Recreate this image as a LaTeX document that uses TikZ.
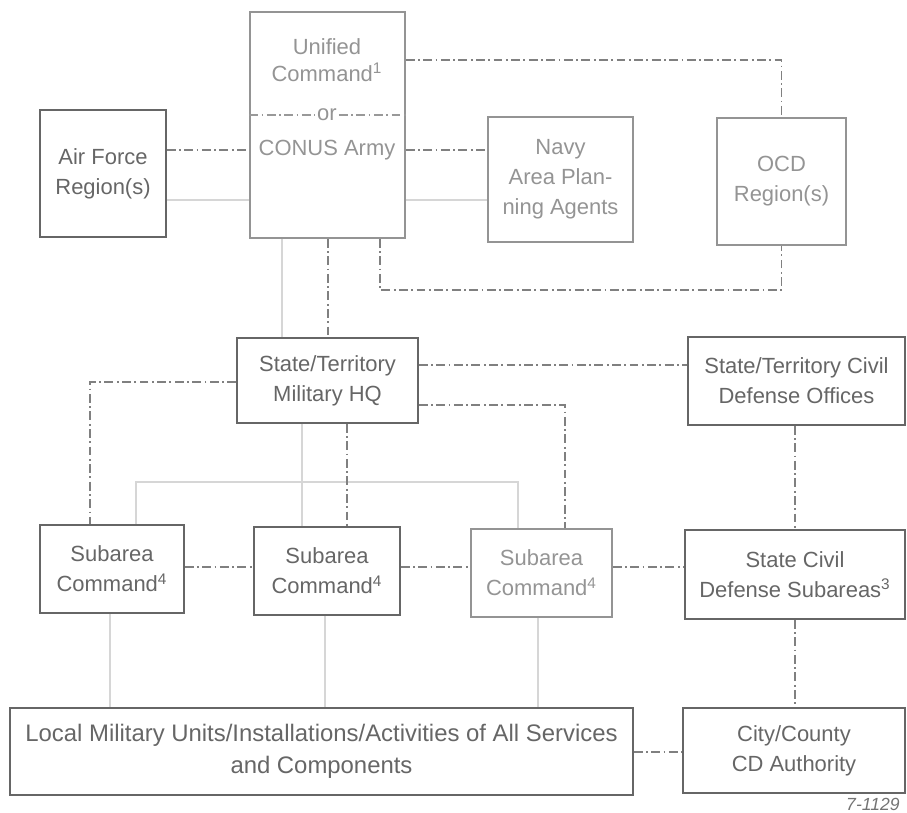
\documentclass[tikz,border=0pt]{standalone}
\usepackage{fontspec}
\setmainfont{Liberation Sans}
\usepackage{tikz}
\usetikzlibrary{arrows.meta}

\tikzset{
    box/.style={draw=black!60, line width=0.9pt, text=black!60, align=center, inner sep=0pt,
        font=\fontsize{12.5}{17}\selectfont},
    faint/.style={draw=black!42, text=black!42},
    label/.style={text=black!42, align=center, inner sep=1pt, font=\fontsize{12.5}{15}\selectfont},
    coord/.style={draw=black!50, line width=0.9pt, dash pattern=on 5pt off 2pt on 1pt off 2pt},
    chain/.style={draw=black!16, line width=1.6pt},
}

\begin{document}
\begin{tikzpicture}[x=0.02cm, y=-0.02cm]
    \useasboundingbox (0, 0) rectangle (907, 813);
    % top row
    \node[box, faint, minimum width=3.1cm, minimum height=4.52cm] (unif) at (327.5, 125) {};
    \node[label] (unifT) at (327, 60) {Unified\\Command\textsuperscript{1}};
    \node[label] (orT) at (327, 115) {or};
    \node[label] (conusT) at (327, 150) {CONUS Army};
    \node[box, minimum width=2.52cm, minimum height=2.54cm] (air) at (103, 173.5) {Air Force\\Region(s)};
    \node[box, faint, minimum width=2.9cm, minimum height=2.5cm] (navy) at (560.5, 179.5) {Navy\\Area Plan-\\ning Agents};
    \node[box, faint, minimum width=2.58cm, minimum height=2.54cm] (ocd) at (781.5, 181.5) {OCD\\Region(s)};
    % state level
    \node[box, minimum width=3.62cm, minimum height=1.7cm] (hq) at (327.5, 380.5) {State/Territory\\Military HQ};
    \node[box, minimum width=4.34cm, minimum height=1.76cm] (cdo) at (796.5, 381) {State/Territory Civil\\Defense Offices};
    % subareas
    \node[box, minimum width=2.88cm, minimum height=1.76cm] (sub1) at (112, 569) {Subarea\\Command\textsuperscript{4}};
    \node[box, minimum width=2.92cm, minimum height=1.76cm] (sub2) at (327, 571) {Subarea\\Command\textsuperscript{4}};
    \node[box, faint, minimum width=2.82cm, minimum height=1.76cm] (sub3) at (541.5, 573) {Subarea\\Command\textsuperscript{4}};
    \node[box, minimum width=4.4cm, minimum height=1.78cm] (cds) at (795, 574.5) {State Civil\\Defense Subareas\textsuperscript{3}};
    % local level
    \node[box, minimum width=12.46cm, minimum height=1.74cm, font=\fontsize{13.6}{18}\selectfont] (local) at (321.5, 751.5) {Local Military Units/Installations/Activities of All Services\\and Components};
    \node[box, minimum width=4.44cm, minimum height=1.7cm] (city) at (794, 750.5) {City/County\\CD Authority};
    \node[text=black!55, inner sep=0pt, anchor=south east, font=\itshape\fontsize{10}{10}\selectfont] (tag) at (900, 811) {7-1129};

    \draw[coord, draw=black!40] (unif.west |- orT) -- (orT.west);
    \draw[coord, draw=black!40] (orT.east) -- (unif.east |- orT);

    % OCD loop
    \draw[coord] (unifT -| unif.east) -| (ocd.north);
    \coordinate (loopL) at (380, 290);
    \draw[coord] (unif.south -| loopL) -- (loopL) -| (ocd.south);

    \coordinate (lowY) at (0, 200);
    \draw[coord] (air.east |- conusT) -- (unif.west |- conusT);
    \draw[chain, line width=1pt] (air.east |- lowY) -- (unif.west |- lowY);
    \draw[coord] (unif.east |- conusT) -- (navy.west |- conusT);
    \draw[chain, line width=1pt] (unif.east |- lowY) -- (navy.west |- lowY);

    \draw[chain] (unif.south -| 282, 0) -- (hq.north -| 282, 0);
    \draw[coord] (unif.south -| 328, 0) -- (hq.north -| 328, 0);

    \draw[coord] (hq.east |- 0, 365) -- (cdo.west |- 0, 365);
    \draw[coord] (hq.west |- 0, 382) -| (sub1.north -| 90, 0);
    \draw[coord] (hq.east |- 0, 405) -| (sub3.north -| 565, 0);

    \draw[chain] (hq.south -| 302, 0) -- (sub2.north -| 302, 0);
    \draw[chain] (sub1.north -| 136, 0) |- (518, 482) -- (sub3.north -| 518, 0);
    \draw[coord] (hq.south -| 347, 0) -- (sub2.north -| 347, 0);

    \draw[coord] (sub1.east |- 0, 567) -- (sub2.west |- 0, 567);
    \draw[coord] (sub2.east |- 0, 567) -- (sub3.west |- 0, 567);
    \draw[coord] (sub3.east |- 0, 567) -- (cds.west |- 0, 567);
    \draw[coord] (cdo.south -| 795, 0) -- (cds.north -| 795, 0);
    \draw[coord] (cds.south -| 795, 0) -- (city.north -| 795, 0);

    \draw[chain] (sub1.south -| 110, 0) -- (local.north -| 110, 0);
    \draw[chain] (sub2.south -| 325, 0) -- (local.north -| 325, 0);
    \draw[chain] (sub3.south -| 538, 0) -- (local.north -| 538, 0);
    \draw[coord] (local.east |- 0, 752) -- (city.west |- 0, 752);
\end{tikzpicture}
\end{document}
